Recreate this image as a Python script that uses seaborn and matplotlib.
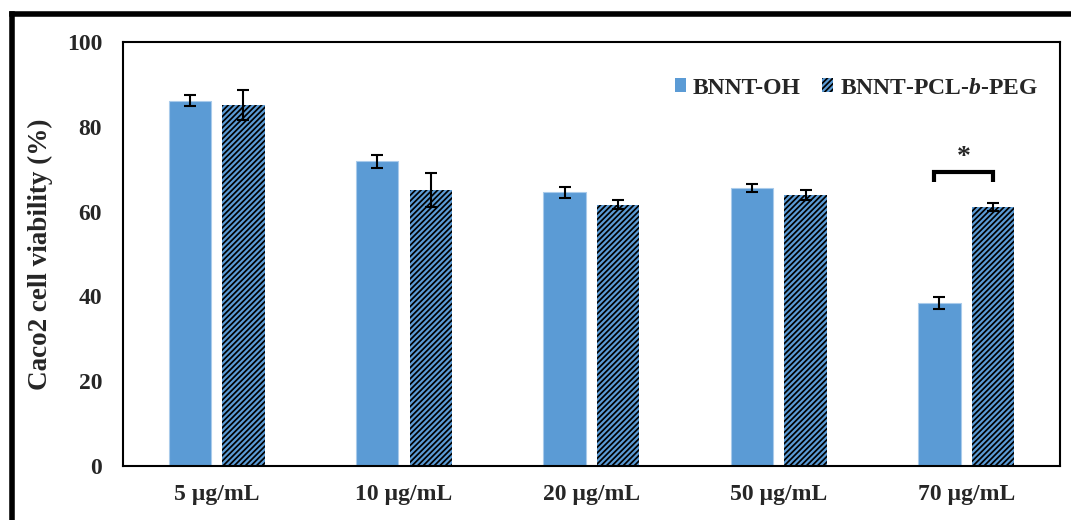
import matplotlib
matplotlib.use("Agg")
import matplotlib.pyplot as plt
import matplotlib.lines as mlines
import matplotlib.patches as mpatches
import seaborn as sns
import pandas as pd
import numpy as np

categories = ["5 µg/mL", "10 µg/mL", "20 µg/mL", "50 µg/mL", "70 µg/mL"]
series_names = ["BNNT-OH", "BNNT-PCL-b-PEG"]
oh_values = [86.1, 71.9, 64.6, 65.6, 38.4]
oh_errors = [1.3, 1.5, 1.3, 1.0, 1.4]
peg_values = [85.1, 65.1, 61.6, 63.9, 61.1]
peg_errors = [3.5, 3.9, 1.1, 1.1, 1.0]
y_ticks = [0, 20, 40, 60, 80, 100]

sns.set_style("white")
plt.rcParams["font.family"] = ["Liberation Serif", "DejaVu Serif"]
plt.rcParams["font.weight"] = "bold"
plt.rcParams["mathtext.fontset"] = "custom"
plt.rcParams["mathtext.rm"] = "Liberation Serif:bold"
plt.rcParams["mathtext.bfit"] = "Liberation Serif:italic:bold"
plt.rcParams["mathtext.it"] = "Liberation Serif:italic:bold"
plt.rcParams["hatch.linewidth"] = 1.25
plt.rcParams["hatch.color"] = "black"

BLUE = "#5B9BD5"
HATCH = "//////"

df = pd.DataFrame({
    "cat": categories * 2,
    "series": [series_names[0]] * 5 + [series_names[1]] * 5,
    "value": oh_values + peg_values,
})

fig = plt.figure(figsize=(10.71, 5.2), dpi=100)
ax = fig.add_axes([0.1148, 0.1038, 0.8749, 0.8154])

sns.barplot(data=df, x="cat", y="value", hue="series", order=categories,
            hue_order=series_names, palette=[BLUE, BLUE], width=0.572, gap=0.21,
            errorbar=None, legend=False, ax=ax, saturation=1)

errs = [oh_errors, peg_errors]
vals = [oh_values, peg_values]
centers = []
bar_containers = list(ax.containers)
for i, cont in enumerate(bar_containers):
    xs = [p.get_x() + p.get_width() / 2 for p in cont.patches]
    centers.append(xs)
    for p in cont.patches:
        if i == 1:
            p.set_hatch(HATCH)
            p.set_edgecolor("black")
            p.set_linewidth(0)
        else:
            p.set_edgecolor("#A9CBEB")
            p.set_linewidth(0.8)
    ax.errorbar(xs, vals[i], yerr=errs[i], fmt="none", ecolor="black",
                elinewidth=1.5, capsize=4, capthick=1.5, zorder=4)

# significance bracket between the two 70 µg/mL bars
bx0, bx1 = centers[0][4] - 0.03, centers[1][4]
ax.plot([bx0, bx0, bx1, bx1], [67.0, 69.3, 69.3, 67.0], color="black",
        lw=3, solid_capstyle="butt", solid_joinstyle="miter", zorder=5)
ax.text((bx0 + bx1) / 2, 72.8, "*", ha="center", va="center",
        fontsize=20, fontweight="bold")

ax.set_xlim(-0.5, 4.5)
ax.set_ylim(0, 100)
ax.set_yticks(y_ticks)
ax.set_xlabel("")
ax.set_ylabel("Caco2 cell viability (%)", fontsize=19.5, fontweight="bold", labelpad=10)
ax.tick_params(axis="both", length=0, labelsize=17)
ax.tick_params(axis="y", pad=15)
ax.tick_params(axis="x", pad=13)
for lab in ax.get_xticklabels() + ax.get_yticklabels():
    lab.set_fontweight("bold")
for s in ax.spines.values():
    s.set_visible(True)
    s.set_color("black")
    s.set_linewidth(1.5)

h1 = mpatches.Patch(facecolor=BLUE, edgecolor=BLUE, linewidth=0, label=series_names[0])
h2 = mpatches.Patch(facecolor=BLUE, edgecolor="black", linewidth=0, hatch=HATCH,
                    label=r"BNNT-PCL-$\mathbfit{b}$-PEG")
ax.legend(handles=[h1, h2], loc="center right", bbox_to_anchor=(0.9765, 0.8915),
          ncol=2, frameon=False, handlelength=0.45, handleheight=0.55,
          handletextpad=0.3, columnspacing=0.9, borderpad=0, borderaxespad=0,
          prop={"weight": "bold", "size": 17})

# outer frame (top and left visible)
fig.add_artist(mlines.Line2D([12.2 / 1071, 1.0], [1 - 14.3 / 520, 1 - 14.3 / 520],
                             transform=fig.transFigure, color="black", lw=4,
                             solid_capstyle="projecting"))
fig.add_artist(mlines.Line2D([12.2 / 1071, 12.2 / 1071], [0, 1 - 14.3 / 520],
                             transform=fig.transFigure, color="black", lw=4,
                             solid_capstyle="projecting"))

fig.savefig("out.png", dpi=100)
